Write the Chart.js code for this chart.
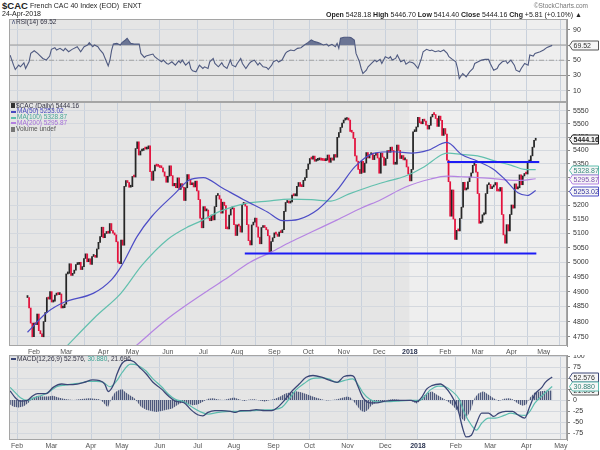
<!DOCTYPE html>
<html>
<head>
<meta charset="utf-8">
<title>$CAC</title>
<script src="https://cdn.jsdelivr.net/npm/chart.js@4.4.1/dist/chart.umd.min.js"></script>
<style>
  body { margin: 0; width: 600px; height: 450px; overflow: hidden; position: relative; background: #fff;
         font-family: "Liberation Sans", Arial, sans-serif; color: #222; }
  canvas { position: absolute; left: 0; }
  .txt { position: absolute; white-space: nowrap; line-height: 1; z-index: 2; }
  .leg { position: absolute; left: 11px; font-size: 6.5px; line-height: 1; white-space: nowrap; z-index: 2; color: #334; }
  .mk { display: inline-block; width: 5px; height: 2px; vertical-align: middle; margin-right: 1px; }
  .ic { display: inline-block; width: 4px; height: 5px; vertical-align: middle; margin-right: 1px; background: #333; }
  b { font-weight: bold; }
</style>
</head>
<body>
<div class="txt" style="left:2px;top:0.5px;font-size:9.5px;font-weight:bold">$CAC</div>
<div class="txt" style="left:30px;top:1.8px;font-size:7px">French CAC 40 Index (EOD)&nbsp; ENXT</div>
<div class="txt" style="left:2px;top:10.3px;font-size:7px">24-Apr-2018</div>
<div class="txt" style="right:12px;top:2.5px;font-size:6.5px;color:#777">&copy;StockCharts.com</div>
<div class="txt" style="right:18px;top:10.6px;font-size:7px"><b>Open</b> 5428.18 <b>High</b> 5446.70 <b>Low</b> 5414.40 <b>Close</b> 5444.16 <b>Chg</b> +5.81 (+0.10%) &#9650;</div>

<div class="leg" style="top:18.8px"><span style="color:#4f5a80">&#8743;</span>RSI(14) 69.52</div>
<div class="leg" style="top:102.6px"><span class="ic"></span>$CAC (Daily) 5444.16</div>
<div class="leg" style="top:108.4px;color:#4848c0"><span class="mk" style="background:#4848c0"></span>MA(50) 5253.02</div>
<div class="leg" style="top:114.3px;color:#49a898"><span class="mk" style="background:#5fbfae"></span>MA(100) 5328.87</div>
<div class="leg" style="top:120.2px;color:#a670d8"><span class="mk" style="background:#b380e0"></span>MA(200) 5295.87</div>
<div class="leg" style="top:126.2px;color:#555"><span class="ic" style="background:#777"></span>Volume undef</div>
<div class="leg" style="top:355.5px"><span class="mk" style="background:#3b4676"></span>MACD(12,26,9) 52.576, <span style="color:#3aa394">30.880</span>, 21.696</div>

<canvas id="rsi" width="600" height="83" style="top:19px"></canvas>
<canvas id="price" width="600" height="254" style="top:102px"></canvas>
<canvas id="macd" width="600" height="95" style="top:355px"></canvas>

<script>
// trading calendar (Euronext), first bar is 26 Jan 2017
const HOLIDAYS = ['2017-04-14', '2017-04-17', '2017-05-01', '2017-12-25', '2017-12-26',
                  '2018-01-01', '2018-03-30', '2018-04-02', '2018-05-01'];
const MONTHS = ['Jan', 'Feb', 'Mar', 'Apr', 'May', 'Jun', 'Jul', 'Aug', 'Sep', 'Oct', 'Nov', 'Dec'];

// daily closes, 26-Jan-2017 .. 24-Apr-2018
const closes = [
  4880, 4845, 4795, 4750,
  4795, 4790, 4825, 4770, 4760, 4750, 4800, 4830, 4880, 4875, 4900, 4865, 4868, 4888, 4895, 4890, 4892, 4845, 4846, 4858,
  4960, 4962, 4995, 4955, 4962, 4973, 4992, 4993, 5000, 4975, 4985, 5013, 5029, 5002, 5012, 4993, 5020, 5020, 5017, 5046, 5069, 5089, 5122,
  5085, 5100, 5102, 5101, 5135, 5110, 5101, 5095, 5071, 5000, 4995, 5077, 5059, 5268, 5289, 5282, 5265, 5267,
  5304, 5302, 5407, 5432, 5383, 5398, 5400, 5407, 5405, 5406, 5417, 5322, 5290, 5324, 5346, 5342, 5341, 5337, 5336, 5321, 5305, 5283,
  5305, 5343, 5307, 5270, 5279, 5263, 5299, 5257, 5278, 5265, 5217, 5263, 5311, 5294, 5274, 5281, 5266, 5287, 5252, 5220, 5154, 5120,
  5195, 5180, 5183, 5154, 5145, 5165, 5148, 5195, 5235, 5235, 5222, 5172, 5211, 5199, 5117, 5116, 5165, 5187, 5190, 5131, 5093,
  5130, 5126, 5105, 5203, 5208, 5197, 5131, 5075, 5060, 5130, 5140, 5154, 5123, 5087, 5064, 5121, 5125, 5121, 5113, 5092, 5036, 5072, 5085,
  5102, 5098, 5090, 5105, 5103, 5113, 5178, 5210, 5211, 5208, 5212, 5237, 5234, 5234, 5268, 5282, 5268, 5267, 5290, 5300, 5330,
  5350, 5370, 5368, 5379, 5360, 5363, 5365, 5371, 5364, 5363, 5362, 5364, 5383, 5356, 5372, 5364, 5385, 5375, 5449, 5467, 5486, 5503,
  5514, 5516, 5517, 5514, 5471, 5468, 5445, 5380, 5360, 5330, 5315, 5360, 5319, 5353, 5392, 5372, 5384, 5390, 5366, 5382, 5390, 5372,
  5316, 5390, 5375, 5345, 5370, 5399, 5393, 5412, 5400, 5349, 5349, 5420, 5400, 5370, 5381, 5365, 5366, 5339, 5313,
  5288, 5330, 5470, 5471, 5488, 5524, 5504, 5500, 5517, 5510, 5495, 5480, 5494, 5526, 5536, 5535, 5520, 5490, 5529, 5513, 5456, 5482,
  5461, 5364, 5285, 5161, 5255, 5151, 5079, 5111, 5109, 5153, 5193, 5283, 5255, 5259, 5285, 5302, 5317, 5345, 5349, 5320,
  5242, 5136, 5140, 5166, 5169, 5242, 5274, 5275, 5260, 5266, 5273, 5282, 5252, 5251, 5264, 5167, 5095, 5066, 5131, 5109, 5167,
  5201, 5190, 5277, 5259, 5263, 5310, 5274, 5306, 5315, 5313, 5357, 5358, 5380, 5412, 5438, 5444.16
];

// moving averages: [bar index, value]
const ma50 = [[0, 4765], [12, 4830], [23, 4865], [41, 4895], [52, 4940], [58, 4985], [68, 5090], [77, 5160], [91, 5240],
  [100, 5290], [109, 5300], [120, 5265], [134, 5220], [149, 5175], [158, 5145], [168, 5150], [180, 5185], [192, 5255],
  [203, 5340], [215, 5390], [227, 5395], [238, 5390], [248, 5400], [260, 5430], [269, 5385], [279, 5360], [289, 5330],
  [296, 5293], [304, 5245], [310, 5235], [315, 5253.02]];
const ma100 = [[23, 4712], [42, 4815], [58, 4895], [71, 4990], [87, 5080], [100, 5125], [106, 5140], [120, 5180],
  [134, 5205], [149, 5215], [163, 5222], [176, 5220], [188, 5215], [199, 5240], [211, 5265], [222, 5285], [234, 5305],
  [246, 5340], [257, 5385], [261, 5390], [269, 5385], [279, 5380], [289, 5362], [300, 5345], [308, 5330], [315, 5328.87]];
const ma200 = [[66, 4715], [87, 4810], [110, 4897], [122, 4940], [138, 5000], [151, 5035], [163, 5070], [176, 5105],
  [192, 5148], [207, 5190], [219, 5220], [234, 5265], [250, 5295], [260, 5305], [269, 5303], [285, 5298], [296, 5292],
  [306, 5290], [315, 5295.87]];

// hand-drawn horizontal lines: [from bar, to bar, level]
const supportLines = [[134.7, 315.4, 5030], [260.2, 317.2, 5357]];

// RSI(14)
const rsi = [[0, 56.8], [2, 43.6], [3, 37.9], [5, 43.6], [6, 41.4], [8, 46.7], [9, 39.2], [11, 48], [12, 59], [14, 62.5],
  [16, 59], [17, 56.8], [19, 52.4], [21, 50.2], [23, 55.5], [24, 64.3], [26, 66.5], [27, 63.4], [29, 65.6], [31, 62.5],
  [32, 65.6], [34, 61.2], [36, 64.3], [39, 67.8], [41, 61.2], [43, 67.8], [45, 70], [46, 73.1], [48, 67.8], [49, 70],
  [51, 67.8], [52, 64.3], [54, 59], [56, 48], [57, 42.7], [58, 50.2], [59, 63.4], [60, 71.3], [62, 72.2], [64, 70],
  [65, 73.1], [67, 76.6], [68, 78.8], [70, 72.2], [72, 71.3], [75, 71.3], [76, 59], [78, 53.7], [79, 55.5], [81, 56.8],
  [83, 58.1], [84, 54.6], [86, 51.1], [88, 48], [89, 50.2], [91, 45.8], [92, 44.9], [94, 48], [96, 43.6], [98, 49.3],
  [99, 46.7], [100, 50.2], [102, 43.6], [104, 48], [105, 39.2], [106, 36.2], [108, 34.8], [110, 43.6], [112, 39.2],
  [113, 41.4], [115, 39.2], [116, 48], [118, 52.4], [119, 45.8], [121, 41.4], [123, 46.7], [124, 42.7], [126, 39.2],
  [128, 50.2], [129, 43.6], [131, 41.4], [132, 45.8], [134, 52.4], [135, 45.8], [137, 39.2], [139, 45.8], [140, 48],
  [142, 50.2], [144, 43.6], [145, 46.7], [147, 41.4], [149, 40.5], [150, 37.9], [152, 43.6], [153, 48], [155, 50.2],
  [156, 47.6], [158, 50.2], [160, 59], [161, 61.2], [163, 63.4], [165, 62.5], [167, 65.6], [169, 66.5], [171, 70],
  [173, 73.1], [175, 76.6], [177, 74.4], [179, 73.1], [180, 72.2], [182, 70], [184, 71.3], [185, 68.7], [187, 70.9],
  [189, 67.8], [190, 72.2], [191, 65.6], [192, 78.8], [194, 80.1], [197, 80.1], [198, 79.7], [200, 76.6], [201, 59],
  [203, 48], [204, 39.2], [205, 32.6], [207, 37], [208, 41.4], [210, 45.8], [212, 50.2], [213, 48], [215, 51.1],
  [216, 45.8], [218, 54.6], [220, 52.4], [221, 54.6], [222, 50.2], [224, 52.4], [225, 56.8], [227, 48], [229, 50.2],
  [230, 44.9], [232, 48], [234, 46.7], [235, 44.9], [237, 39.2], [239, 52.4], [240, 61.2], [242, 64.3], [244, 62.5],
  [245, 63.4], [247, 61.2], [249, 62.5], [250, 61.2], [252, 63.4], [254, 59], [255, 54.6], [257, 51.1], [259, 48],
  [260, 39.2], [261, 26], [263, 32.6], [264, 30.4], [265, 28.2], [267, 34.8], [269, 39.2], [270, 45.8], [272, 48],
  [274, 50.2], [276, 51.1], [278, 51.1], [279, 45.8], [281, 37], [283, 39.2], [284, 43.6], [286, 48], [288, 49.3],
  [289, 45.8], [291, 50.2], [293, 43.6], [294, 37], [296, 34.8], [297, 39.2], [299, 45.8], [301, 43.6], [302, 56.8],
  [304, 55.5], [305, 59], [308, 61.2], [310, 63.4], [312, 66.9], [315, 69.52]];

// MACD(12,26,9)
const macdLine = [[0, 20.9], [3, 5.4], [6, -2.3], [10, -0.8], [13, 9.3], [16, 14.7], [21, 14.7], [25, 28.7], [30, 36.4],
  [34, 34.9], [39, 36.4], [43, 40.3], [48, 45.7], [52, 44.2], [55, 36.4], [57, 19.4], [60, 34], [62, 58], [65, 83],
  [69, 90.7], [72, 86.8], [75, 75.2], [79, 59.7], [83, 40.3], [88, 24.8], [92, 9.3], [96, -2.3], [101, -6.2],
  [105, -21.7], [109, -33.3], [112, -35.7], [115, -27.9], [119, -24], [123, -24], [128, -25.6], [131, -27.9],
  [134, -24], [139, -24], [143, -21.7], [148, -24], [152, -24], [155, -17.8], [159, -2.3], [163, 17], [168, 36.4],
  [172, 51.9], [176, 55.8], [181, 51.9], [185, 45.7], [190, 40.3], [194, 53.5], [198, 55.8], [200, 51.9], [202, 32.6],
  [205, 5.4], [209, -6.2], [213, -6.2], [218, -2.3], [223, -0.8], [229, -0.8], [233, -0.8], [236, -3.9], [239, 5.4],
  [242, 24.8], [245, 32.6], [250, 36.4], [253, 28.7], [256, 13.2], [260, -17.8], [263, -64.3], [265, -83.7],
  [268, -79.8], [271, -52.7], [274, -29.5], [278, -29.5], [281, -37.2], [284, -29.5], [288, -25.6], [292, -25.6],
  [295, -33.3], [299, -41], [302, -14], [305, 13.2], [309, 28.7], [311, 40.3], [315, 52.576]];
const signalLine = [[0, 28.7], [3, 17], [6, 5.4], [10, -0.8], [14, 5.4], [19, 11.6], [23, 19.4], [27, 30.2], [32, 34.1],
  [36, 36.4], [41, 38.8], [45, 42.6], [50, 42.6], [54, 40.3], [58, 30.2], [62, 44], [65, 62], [70, 81.4], [74, 79.1],
  [79, 65.9], [83, 48], [88, 30.2], [92, 13.2], [96, 1.6], [101, -3.9], [105, -13.9], [110, -25.6], [115, -31.8],
  [121, -27.9], [128, -25.6], [134, -25.6], [141, -24], [148, -22.5], [153, -21.7], [158, -16.3], [162, 1.6],
  [166, 22.5], [171, 38], [175, 48], [181, 50.4], [185, 48], [190, 40.3], [194, 44.2], [199, 48], [202, 36.4],
  [205, 17], [209, 1.6], [213, -3.9], [219, -3.9], [225, -2.3], [232, -0.8], [238, -0.8], [241, 9.3], [244, 22.5],
  [249, 31.8], [253, 30.2], [256, 22.5], [261, 1.6], [264, -29.5], [268, -56.6], [271, -68.2], [274, -52.7],
  [278, -41], [282, -41], [287, -34.9], [291, -29.5], [295, -33.3], [299, -34.9], [302, -25.6], [305, -6.2],
  [310, 13.2], [315, 30.88]];
const histogram = [[0, -10], [2, -15], [5, -17], [8, -14], [11, -5], [13, 5], [16, 10], [19, 8], [22, 8], [25, 10],
  [28, 6], [31, 3], [34, 1], [37, 0], [40, 2], [43, 3], [46, 4], [49, 3], [52, 2], [54, -5], [56, -14], [57, -15],
  [59, 5], [61, 18], [63, 22], [65, 25], [67, 18], [70, 10], [72, 5], [74, -5], [76, -15], [79, -22], [82, -25],
  [85, -27], [88, -25], [91, -22], [94, -20], [97, -12], [100, -5], [103, -8], [106, -12], [109, -10], [112, -4],
  [115, 3], [118, 4], [121, 1], [124, 0], [127, 3], [130, 6], [133, 2], [136, -2], [139, 1], [142, 2], [145, -1],
  [148, -3], [151, 0], [154, 3], [157, 8], [160, 15], [163, 18], [166, 20], [169, 18], [172, 14], [175, 9], [178, 5],
  [181, 2], [184, -1], [187, 0], [190, 2], [193, 5], [196, 8], [198, 5], [200, -5], [202, -15], [204, -25], [206, -27],
  [208, -22], [210, -12], [213, -5], [216, -3], [219, 0], [222, 2], [225, 1], [228, -1], [231, 0], [234, -3], [236, -8],
  [238, -3], [240, 8], [242, 15], [245, 20], [248, 12], [251, 5], [254, -2], [257, -12], [260, -25], [262, -40],
  [264, -48], [266, -35], [268, -20], [270, 5], [272, 15], [275, 20], [278, 12], [281, 4], [284, -2], [287, 3],
  [290, 4], [292, 2], [294, -5], [296, -10], [298, -13], [300, -10], [302, 5], [305, 18], [308, 20], [311, 21],
  [315, 21.696]];

// axis ticks
const priceTicks = [4750, 4800, 4850, 4900, 4950, 5000, 5050, 5100, 5150, 5200, 5250, 5300, 5350, 5400, 5450, 5500, 5550];
const rsiTicks = [10, 30, 50, 70, 90];
const macdTicks = [-75, -50, -25, 0, 25, 50, 75, 100];

const X_MIN = -0.65, X_MAX = 323.6;
const RED = '#e3123d', DARK = '#262626';

// build trading day list (extends a little past the last bar for the May tick)
const days = [];
for (let d = new Date(Date.UTC(2017, 0, 26)); days.length < 326; d.setUTCDate(d.getUTCDate() + 1)) {
  const wd = d.getUTCDay();
  const iso = d.toISOString().slice(0, 10);
  if (wd === 0 || wd === 6 || HOLIDAYS.includes(iso)) continue;
  days.push(iso);
}
const monthTicks = [];
for (let i = 1; i < days.length; i++) {
  const m = +days[i].slice(5, 7), pm = +days[i - 1].slice(5, 7);
  if (m !== pm) monthTicks.push({ i, label: m === 1 ? days[i].slice(0, 4) : MONTHS[m - 1] });
}
const YEAR_START = monthTicks.find(t => t.label === '2018').i;

const pts = arr => arr.map(([x, y]) => ({ x, y }));

Chart.defaults.font.family = '"Liberation Sans", Arial, sans-serif';
Chart.defaults.font.size = 7;
Chart.defaults.color = '#333';
Chart.defaults.animation = false;
Chart.defaults.plugins.legend.display = false;
Chart.defaults.plugins.tooltip.enabled = false;
Chart.defaults.elements.point.radius = 0;

// panel background (2017 darker than 2018) and frame
Chart.register({
  id: 'panel',
  beforeDraw(chart) {
    const { ctx, chartArea: a } = chart;
    const split = chart.scales.x.getPixelForValue(YEAR_START);
    ctx.save();
    ctx.fillStyle = '#e5e5e5';
    ctx.fillRect(a.left, a.top, split - a.left, a.height);
    ctx.fillStyle = '#eeeeee';
    ctx.fillRect(split, a.top, a.right - split, a.height);
    ctx.restore();
  },
  afterDraw(chart) {
    const { ctx, chartArea: a } = chart;
    ctx.save();
    ctx.strokeStyle = '#a5a5a5';
    ctx.lineWidth = 1;
    ctx.strokeRect(a.left + 0.5, a.top + 0.5, a.width - 1, a.height - 1);
    ctx.restore();
  }
});

// value tags on the right axis
function tags(items) {
  return {
    id: 'tags',
    afterDraw(chart) {
      const { ctx, chartArea: a, scales: { y } } = chart;
      ctx.save();
      items.forEach(t => {
        const py = Math.round(y.getPixelForValue(t.v)) + 0.5;
        const x0 = a.right + 2.5, x1 = 598.5, h = 4.5;
        ctx.beginPath();
        ctx.moveTo(x0, py);
        ctx.lineTo(x0 + 3, py - h);
        ctx.lineTo(x1, py - h);
        ctx.lineTo(x1, py + h);
        ctx.lineTo(x0 + 3, py + h);
        ctx.closePath();
        ctx.fillStyle = '#f6f6f6';
        ctx.fill();
        ctx.strokeStyle = t.color;
        ctx.lineWidth = 1;
        ctx.stroke();
        ctx.fillStyle = t.text || t.color;
        ctx.font = (t.bold ? 'bold ' : '') + '7px "Liberation Sans", Arial, sans-serif';
        ctx.textBaseline = 'middle';
        ctx.fillText(t.label, x0 + 4, py + 0.5);
      });
      ctx.restore();
    }
  };
}

function xAxis(showLabels) {
  return {
    type: 'linear', min: X_MIN, max: X_MAX,
    afterBuildTicks: s => { s.ticks = monthTicks.map(t => ({ value: t.i })); },
    ticks: {
      display: showLabels, autoSkip: false, maxRotation: 0, padding: 2,
      callback: (v, k) => monthTicks[k].label,
      font: c => ({ size: 7, weight: c.tick && c.tick.value === YEAR_START ? 'bold' : 'normal' }),
      color: c => c.tick && c.tick.value === YEAR_START ? '#2a3350' : '#555'
    },
    grid: { color: '#c9d1dc', drawTicks: false },
    border: { display: false },
    afterFit: s => { s.height = showLabels ? 10 : 0; s.paddingLeft = 0; s.paddingRight = 0; }
  };
}

function yAxis(type, min, max, ticks) {
  return {
    type, position: 'right', min, max,
    afterBuildTicks: s => { s.ticks = ticks.map(v => ({ value: v })); },
    ticks: { padding: 3, autoSkip: false, color: '#333', font: { size: 7 }, callback: v => String(v) },
    grid: { color: '#d4d8de', tickLength: 3, tickColor: '#888' },
    border: { display: true, color: '#999' },
    afterFit: s => { s.width = 33; s.paddingTop = 0; s.paddingBottom = 0; }
  };
}

const layout = { padding: { left: 9, right: 0, top: 0, bottom: 0 } };
const refLine = (v, dash) => ({
  type: 'line', data: [{ x: X_MIN, y: v }, { x: X_MAX, y: v }],
  borderColor: dash ? '#a3a3a3' : '#9a9a9a', borderWidth: 1, borderDash: dash || [], order: 5
});

// RSI panel
new Chart(document.getElementById('rsi'), {
  type: 'line',
  data: {
    datasets: [
      { data: pts(rsi), borderColor: '#4f5a80', borderWidth: 1.1, order: 1,
        fill: { value: 70, above: '#6b7594', below: 'rgba(0,0,0,0)' } },
      refLine(70), refLine(30), refLine(50, [5, 2, 1, 2])
    ]
  },
  options: {
    responsive: false, layout,
    scales: { x: xAxis(false), y: yAxis('linear', -4.75, 104.1, rsiTicks) }
  },
  plugins: [tags([{ v: 69.52, label: '69.52', color: '#555', text: '#333' }])]
});

// price panel
const candles = closes.map((c, i) => ({ x: i, y: [i ? closes[i - 1] : c, c] }));
const candleColors = closes.map((c, i) => (i && c < closes[i - 1]) ? RED : DARK);
const maLine = (arr, color) => ({
  type: 'line', data: pts(arr), borderColor: color, borderWidth: 1.2,
  cubicInterpolationMode: 'monotone', order: 2
});

new Chart(document.getElementById('price'), {
  type: 'bar',
  data: {
    datasets: [
      { data: candles, backgroundColor: candleColors, barThickness: 1.1, minBarLength: 2, order: 3 },
      maLine(ma50, '#4d4dc6'),
      maLine(ma100, '#62c0ae'),
      maLine(ma200, '#b584e2'),
      ...supportLines.map(([a, b, v]) => ({
        type: 'line', data: [{ x: a, y: v }, { x: b, y: v }], borderColor: '#1c1cf5', borderWidth: 2, order: 1
      }))
    ]
  },
  options: {
    responsive: false, layout,
    scales: { x: xAxis(true), y: yAxis('logarithmic', 4720, 5583, priceTicks) }
  },
  plugins: [tags([
    { v: 5444.16, label: '5444.16', color: '#222', bold: true },
    { v: 5328.87, label: '5328.87', color: '#5fbfae', text: '#3c8c80' },
    { v: 5295.87, label: '5295.87', color: '#b380e0', text: '#7d4fb0' },
    { v: 5253.02, label: '5253.02', color: '#4d4dc6', text: '#3535a0' }
  ])]
});

// MACD panel
const macdCanvas = document.getElementById('macd');
const stripe = document.createElement('canvas');
stripe.width = 2; stripe.height = 4;
const sg = stripe.getContext('2d');
sg.fillStyle = '#4d587c'; sg.fillRect(0, 0, 1, 4);
sg.fillStyle = 'rgba(77,88,124,0.3)'; sg.fillRect(1, 0, 1, 4);
const histFill = macdCanvas.getContext('2d').createPattern(stripe, 'repeat');

new Chart(macdCanvas, {
  type: 'line',
  data: {
    datasets: [
      { data: pts(histogram), borderWidth: 0, backgroundColor: histFill, fill: 'origin', order: 3 },
      { data: pts(macdLine), borderColor: '#3b4676', borderWidth: 1.3, cubicInterpolationMode: 'monotone', order: 1 },
      { data: pts(signalLine), borderColor: '#5cbcae', borderWidth: 1.2, cubicInterpolationMode: 'monotone', order: 2 }
    ]
  },
  options: {
    responsive: false, layout,
    scales: { x: xAxis(true), y: yAxis('linear', -90.7, 102.3, macdTicks) }
  },
  plugins: [tags([
    { v: 21.696, label: '21.696', color: '#555', text: '#333' },
    { v: 52.576, label: '52.576', color: '#3b4676', text: '#333' },
    { v: 30.88, label: '30.880', color: '#5cbcae', text: '#2f7f74' }
  ])]
});
</script>
</body>
</html>
